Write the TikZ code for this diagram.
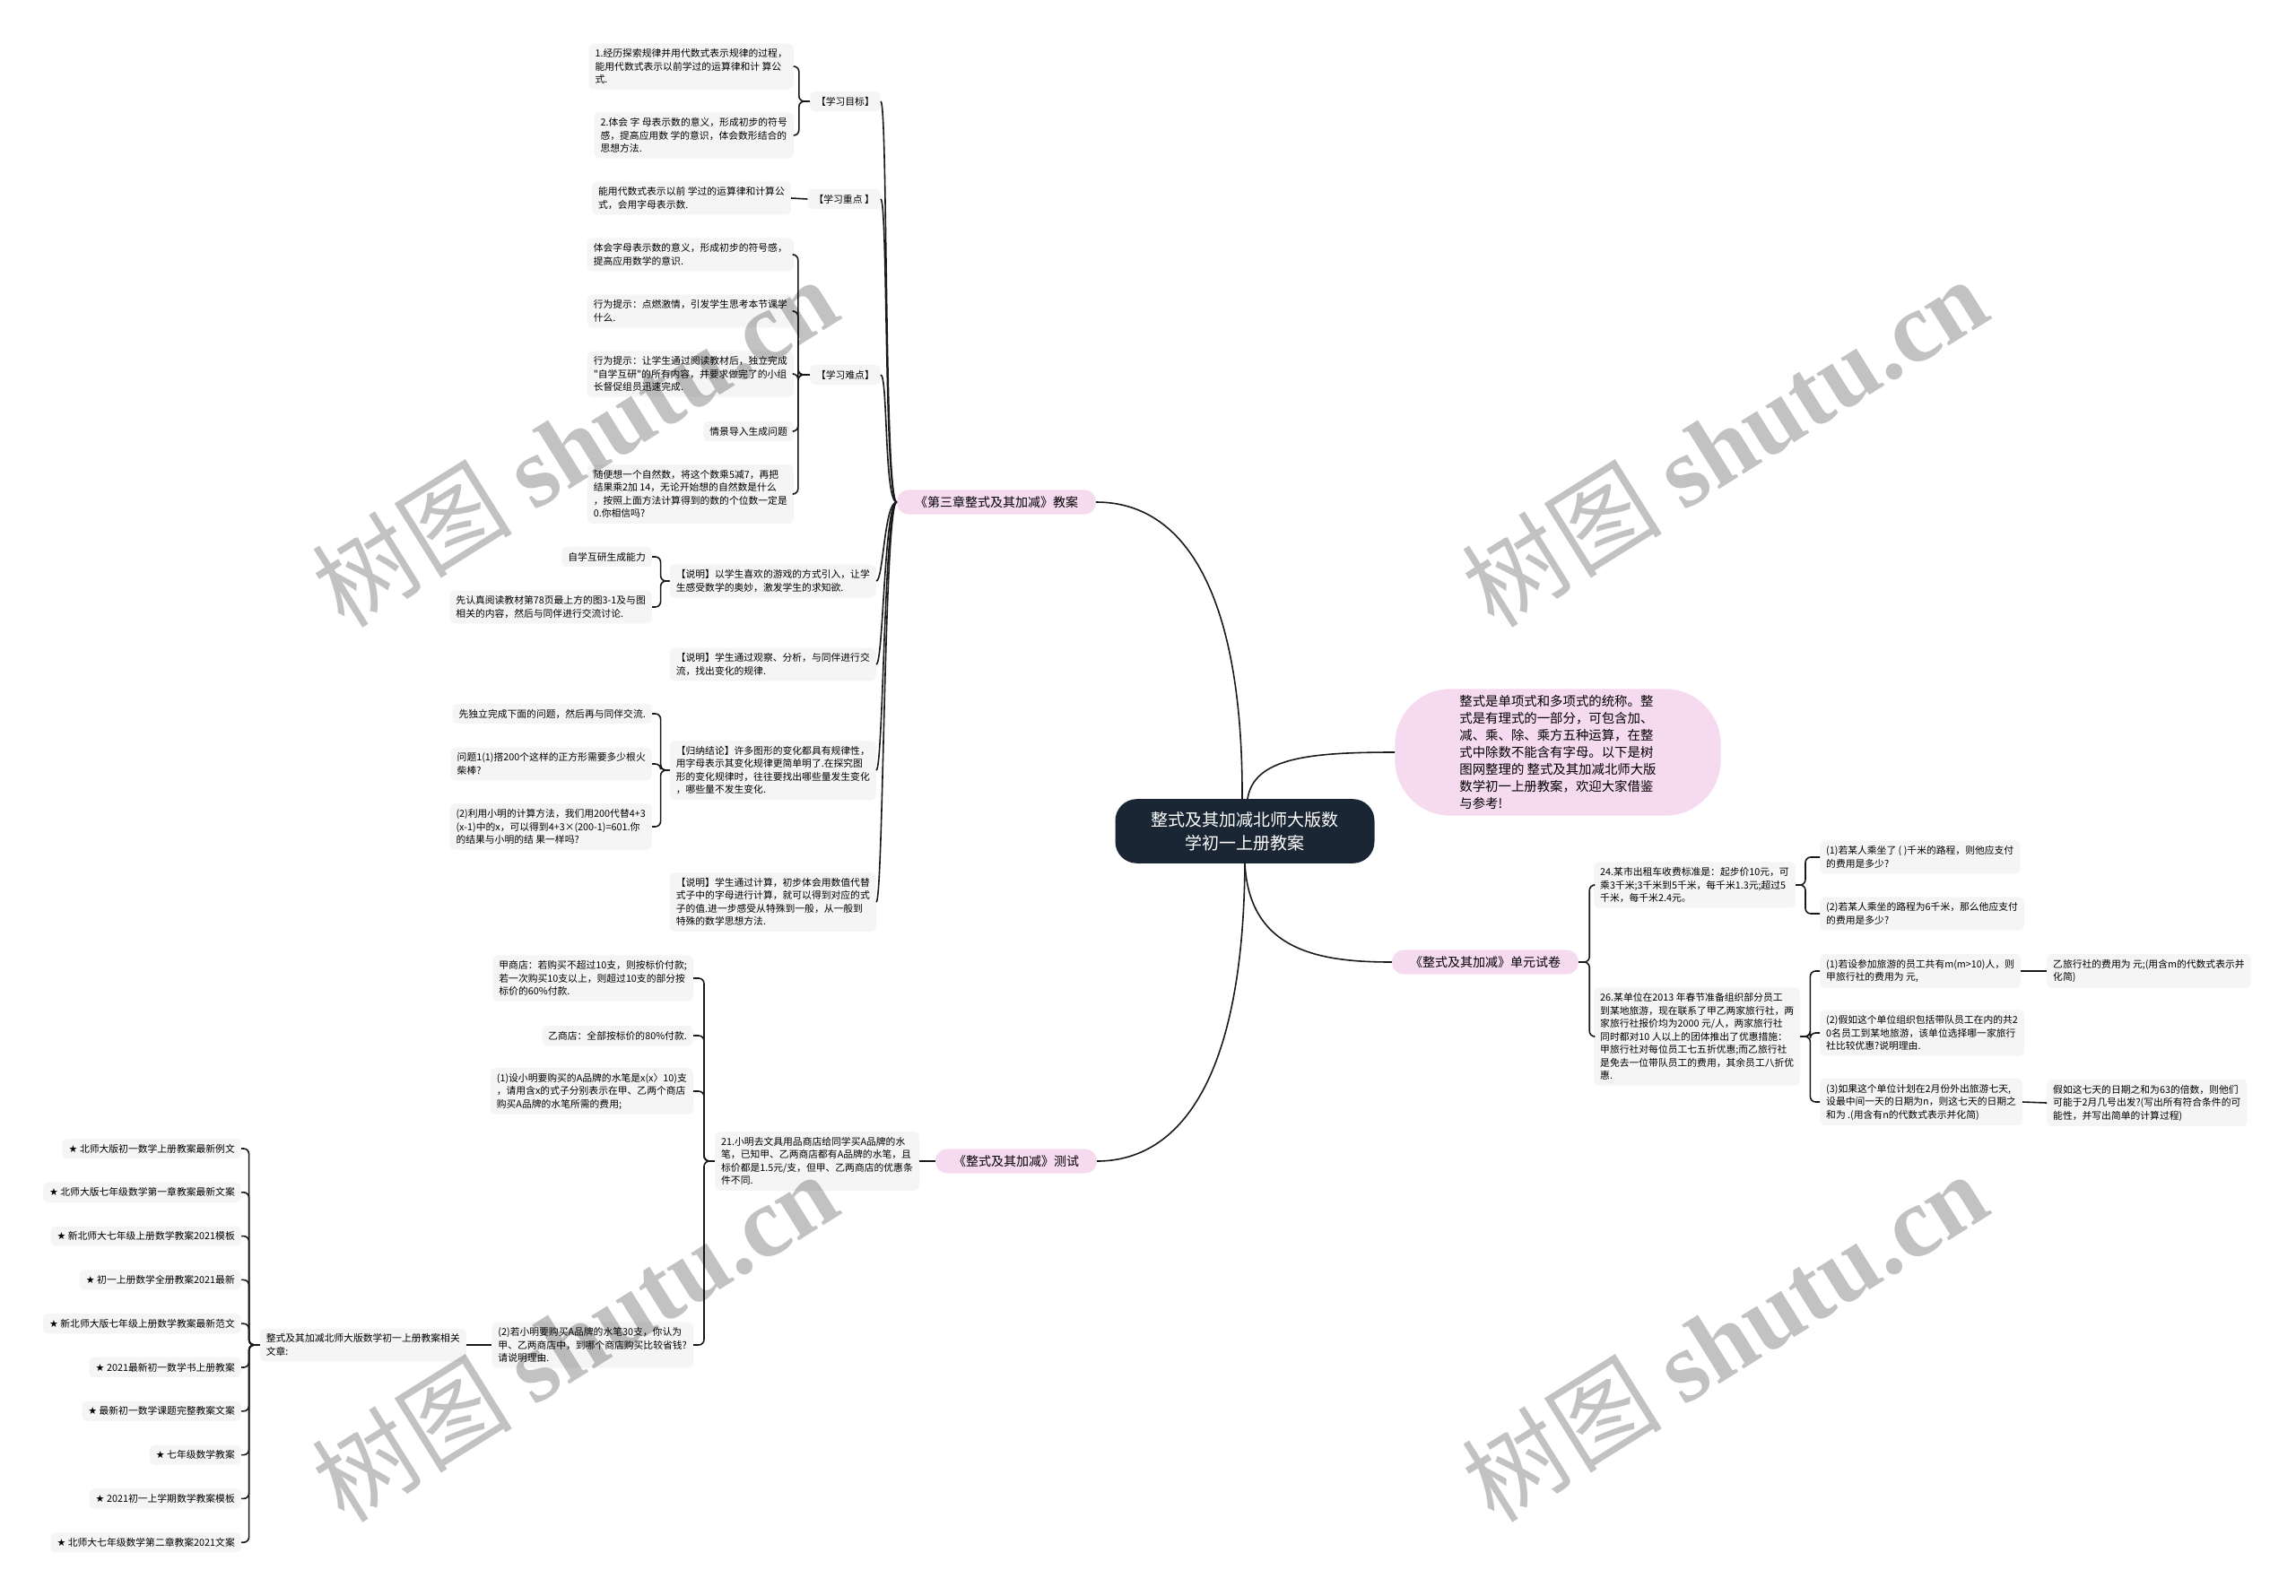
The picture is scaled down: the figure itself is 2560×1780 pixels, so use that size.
\documentclass[tikz,border=0pt]{standalone}
\usepackage{fontspec}
\newfontfamily\cjk{Noto Sans CJK SC}
\newfontfamily\sym{DejaVu Sans}
\newfontfamily\wmlatin{Liberation Serif}
\usetikzlibrary{positioning,calc}
\definecolor{rootblue}{RGB}{27,38,52}
\definecolor{branchpink}{RGB}{246,218,240}
\definecolor{leafgray}{RGB}{245,245,245}
\definecolor{linedark}{RGB}{25,25,25}

\begin{document}
\begin{tikzpicture}[
    x=1pt, y=-1pt,
    every node/.style={font=\cjk},
    root/.style={rectangle, fill=rootblue, text=white, rounded corners=24pt, inner xsep=40pt, inner ysep=14pt, align=center, font=\cjk\fontsize{19}{26}\selectfont},
    branch/.style={rectangle, fill=branchpink, rounded corners=13pt, inner xsep=20pt, inner ysep=7pt, font=\cjk\fontsize{14}{18}\selectfont},
    intro/.style={rectangle, fill=branchpink, rounded corners=62pt, inner xsep=72pt, inner ysep=7pt, align=left, font=\cjk\fontsize{14.4}{19}\selectfont},
    leaf/.style={rectangle, fill=leafgray, rounded corners=5pt, inner xsep=7pt, inner ysep=6pt, align=left, font=\cjk\fontsize{10.8}{14.5}\selectfont},
    link/.style={draw=linedark, line width=1.6pt},
    brk/.style={link, rounded corners=6pt},
    wmark/.style={rotate=32, text=black, text opacity=0.24, font=\cjk\fontsize{112}{112}\selectfont}
]
    \useasboundingbox (0,0) rectangle (2560,1780);

    % Root and main branches
    \node[root] (root) at (1388,927) {整式及其加减北师大版数\\学初一上册教案};
    \node[intro] (intro) at (1737,839) {整式是单项式和多项式的统称。整\\式是有理式的一部分，可包含加、\\减、乘、除、乘方五种运算，在整\\式中除数不能含有字母。以下是树\\图网整理的 整式及其加减北师大版\\数学初一上册教案，欢迎大家借鉴\\与参考!};
    \node[branch] (ch3) at (1111,560) {《第三章整式及其加减》教案};
    \node[branch] (unit) at (1656,1073) {《整式及其加减》单元试卷};
    \node[branch] (test) at (1133,1295) {《整式及其加减》测试};

    \draw[link] ([xshift=-3pt]root.north) .. controls (1386,680) and (1330,560) .. (ch3.east);
    \draw[link] ([xshift=3pt]root.north) .. controls (1398,845) and (1460,839) .. (intro.west);
    \draw[link] (root.south) .. controls (1393,1060) and (1470,1073) .. (unit.west);
    \draw[link] (root.south) .. controls (1386,1230) and (1300,1295) .. (test.east);

    % Chapter 3 lesson plan
    \node[leaf, anchor=east] (goal) at (982,113) {【学习目标】};
    \node[leaf, anchor=east] (goalA) at (885,74) {1.经历探索规律并用代数式表示规律的过程，\\能用代数式表示以前学过的运算律和计 算公\\式.};
    \node[leaf, anchor=east] (goalB) at (885,151) {2.体会 字 母表示数的意义，形成初步的符号\\感，提高应用数 学的意识，体会数形结合的\\思想方法.};
    \node[leaf, anchor=east] (key) at (982,222) {【学习重点 】};
    \node[leaf, anchor=east] (keyA) at (882,221) {能用代数式表示以前 学过的运算律和计算公\\式，会用字母表示数.};
    \node[leaf, anchor=east] (hard) at (982,418) {【学习难点】};
    \node[leaf, anchor=east] (hardA) at (885,284) {体会字母表示数的意义，形成初步的符号感，\\提高应用数学的意识.};
    \node[leaf, anchor=east] (hardB) at (885,347) {行为提示：点燃激情，引发学生思考本节课学\\什么.};
    \node[leaf, anchor=east] (hardC) at (885,417) {行为提示：让学生通过阅读教材后，独立完成\\"自学互研"的所有内容，并要求做完了的小组\\长督促组员迅速完成.};
    \node[leaf, anchor=east] (hardD) at (885,481) {情景导入生成问题};
    \node[leaf, anchor=east] (hardE) at (885,551) {随便想一个自然数，将这个数乘5减7，再把\\结果乘2加 14，无论开始想的自然数是什么\\，按照上面方法计算得到的数的个位数一定是\\0.你相信吗?};
    \node[leaf, anchor=east] (note1) at (977,648) {【说明】以学生喜欢的游戏的方式引入，让学\\生感受数学的奥妙，激发学生的求知欲.};
    \node[leaf, anchor=east] (note1A) at (727,621) {自学互研生成能力};
    \node[leaf, anchor=east] (note1B) at (727,677) {先认真阅读教材第78页最上方的图3-1及与图\\相关的内容，然后与同伴进行交流讨论.};
    \node[leaf, anchor=east] (note2) at (977,741) {【说明】学生通过观察、分析，与同伴进行交\\流，找出变化的规律.};
    \node[leaf, anchor=east] (sum) at (977,859) {【归纳结论】许多图形的变化都具有规律性，\\用字母表示其变化规律更简单明了.在探究图\\形的变化规律时，往往要找出哪些量发生变化\\，哪些量不发生变化.};
    \node[leaf, anchor=east] (sumA) at (727,796) {先独立完成下面的问题，然后再与同伴交流.};
    \node[leaf, anchor=east] (sumB) at (727,852) {问题1(1)搭200个这样的正方形需要多少根火\\柴棒?};
    \node[leaf, anchor=east] (sumC) at (727,922) {(2)利用小明的计算方法，我们用200代替4+3\\(x-1)中的x，可以得到4+3×(200-1)=601.你\\的结果与小明的结 果一样吗?};
    \node[leaf, anchor=east] (note3) at (977,1006) {【说明】学生通过计算，初步体会用数值代替\\式子中的字母进行计算，就可以得到对应的式\\子的值.进一步感受从特殊到一般，从一般到\\特殊的数学思想方法.};

    \foreach \n in {goal,key,hard,note1,note2,sum,note3}
        \draw[link] (ch3.west) .. controls +(-14,0) and +(8,0) .. (\n.east);
    \foreach \n in {goalA,goalB}
        \draw[brk] (goal.west) -- ++(-12,0) |- (\n.east);
    \draw[link] (key.west) -- (keyA.east);
    \foreach \n in {hardA,hardB,hardC,hardD,hardE}
        \draw[brk] (hard.west) -- ++(-13,0) |- (\n.east);
    \foreach \n in {note1A,note1B}
        \draw[brk] (note1.west) -- ++(-10,0) |- (\n.east);
    \foreach \n in {sumA,sumB,sumC}
        \draw[brk] (sum.west) -- ++(-10,0) |- (\n.east);

    % Unit test paper
    \node[leaf, anchor=west] (taxi) at (1777,987) {24.某市出租车收费标准是：起步价10元，可\\乘3千米;3千米到5千米，每千米1.3元;超过5\\千米，每千米2.4元。};
    \node[leaf, anchor=west] (taxiA) at (2029,956) {(1)若某人乘坐了 ( )千米的路程，则他应支付\\的费用是多少?};
    \node[leaf, anchor=west] (taxiB) at (2029,1019) {(2)若某人乘坐的路程为6千米，那么他应支付\\的费用是多少?};
    \node[leaf, anchor=west] (trip) at (1777,1156) {26.某单位在2013 年春节准备组织部分员工\\到某地旅游，现在联系了甲乙两家旅行社，两\\家旅行社报价均为2000 元/人，两家旅行社\\同时都对10 人以上的团体推出了优惠措施：\\甲旅行社对每位员工七五折优惠;而乙旅行社\\是免去一位带队员工的费用，其余员工八折优\\惠.};
    \node[leaf, anchor=west] (tripA) at (2029,1083) {(1)若设参加旅游的员工共有m(m>10)人，则\\甲旅行社的费用为 元,};
    \node[leaf, anchor=west] (tripAA) at (2282,1083) {乙旅行社的费用为 元;(用含m的代数式表示并\\化简)};
    \node[leaf, anchor=west] (tripB) at (2029,1152) {(2)假如这个单位组织包括带队员工在内的共2\\0名员工到某地旅游，该单位选择哪一家旅行\\社比较优惠?说明理由.};
    \node[leaf, anchor=west] (tripC) at (2029,1229) {(3)如果这个单位计划在2月份外出旅游七天,\\设最中间一天的日期为n，则这七天的日期之\\和为 .(用含有n的代数式表示并化简)};
    \node[leaf, anchor=west] (tripCC) at (2282,1230) {假如这七天的日期之和为63的倍数，则他们\\可能于2月几号出发?(写出所有符合条件的可\\能性，并写出简单的计算过程)};

    \foreach \n in {taxi,trip}
        \draw[brk] (unit.east) -- ++(12,0) |- (\n.west);
    \foreach \n in {taxiA,taxiB}
        \draw[brk] (taxi.east) -- ++(11,0) |- (\n.west);
    \foreach \n in {tripA,tripB,tripC}
        \draw[brk] (trip.east) -- ++(11,0) |- (\n.west);
    \draw[link] (tripA.east) -- (tripAA.west);
    \draw[link] (tripC.east) -- (tripCC.west);

    % Test
    \node[leaf, anchor=east] (pen) at (1025,1295) {21.小明去文具用品商店给同学买A品牌的水\\笔，已知甲、乙两商店都有A品牌的水笔，且\\标价都是1.5元/支，但甲、乙两商店的优惠条\\件不同.};
    \node[leaf, anchor=east] (penA) at (773,1091) {甲商店：若购买不超过10支，则按标价付款;\\若一次购买10支以上，则超过10支的部分按\\标价的60\%付款.};
    \node[leaf, anchor=east] (penB) at (773,1155) {乙商店：全部按标价的80\%付款.};
    \node[leaf, anchor=east] (penC) at (773,1217) {(1)设小明要购买的A品牌的水笔是x(x〉10)支\\，请用含x的式子分别表示在甲、乙两个商店\\购买A品牌的水笔所需的费用;};
    \node[leaf, anchor=east] (penD) at (773,1500) {(2)若小明要购买A品牌的水笔30支，你认为\\甲、乙两商店中，到哪个商店购买比较省钱?\\请说明理由.};
    \node[leaf, anchor=east] (more) at (520,1500) {整式及其加减北师大版数学初一上册教案相关\\文章:};

    \draw[link] (test.west) -- (pen.east);
    \foreach \n in {penA,penB,penC,penD}
        \draw[brk] (pen.west) -- ++(-12,0) |- (\n.east);
    \draw[link] (penD.west) -- (more.east);

    % Related articles
    \foreach \t [count=\i] in {北师大版初一数学上册教案最新例文, 北师大版七年级数学第一章教案最新文案, 新北师大七年级上册数学教案2021模板, 初一上册数学全册教案2021最新, 新北师大版七年级上册数学教案最新范文, 2021最新初一数学书上册教案, 最新初一数学课题完整教案文案, 七年级数学教案, 2021初一上学期数学教案模板, 北师大七年级数学第二章教案2021文案} {
        \node[leaf, anchor=east] (art\i) at (269,{1281+48.8*(\i-1)}) {{\sym\fontsize{11}{11}\selectfont ★} \t};
        \draw[brk] (more.west) -- ++(-12,0) |- (art\i.east);
    }

    % Watermarks
    \node[wmark] (wm1) at (640,492) {树图 {\wmlatin\bfseries shutu.cn}};
    \node[wmark] (wm2) at (1922,492) {树图 {\wmlatin\bfseries shutu.cn}};
    \node[wmark] (wm3) at (640,1490) {树图 {\wmlatin\bfseries shutu.cn}};
    \node[wmark] (wm4) at (1922,1490) {树图 {\wmlatin\bfseries shutu.cn}};
\end{tikzpicture}
\end{document}
